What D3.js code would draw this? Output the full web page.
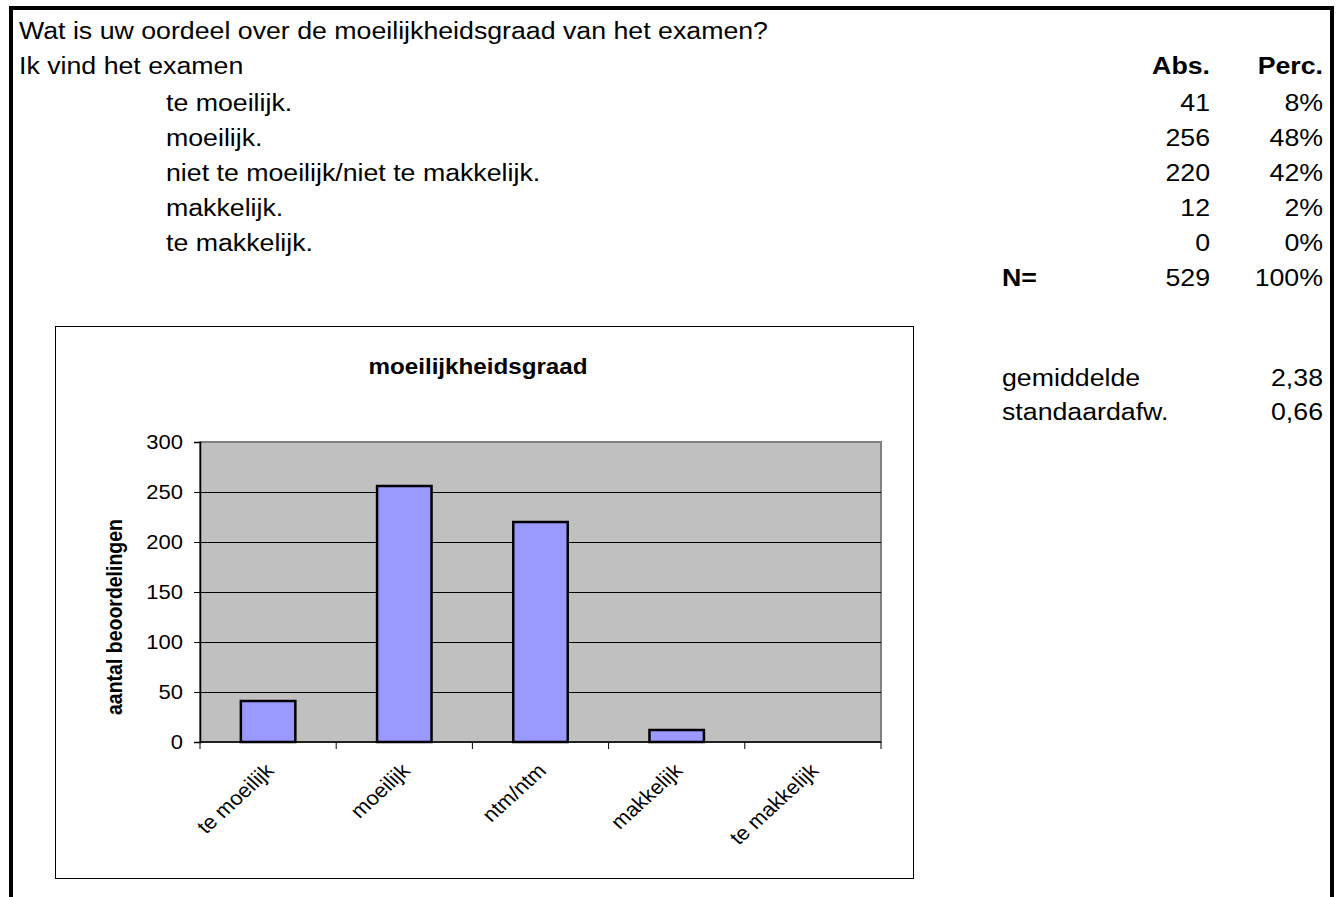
<!DOCTYPE html>
<html>
<head>
<meta charset="utf-8">
<script src="https://d3js.org/d3.v7.min.js"></script>
<style>
  body { margin: 0; background: #fff; }
  svg text { font-family: Arial, "Liberation Sans", sans-serif; fill: #000; }
</style>
</head>
<body>
<script>
var question = 'Wat is uw oordeel over de moeilijkheidsgraad van het examen?';
var intro = 'Ik vind het examen';
var answers = ['te moeilijk.', 'moeilijk.', 'niet te moeilijk/niet te makkelijk.', 'makkelijk.', 'te makkelijk.'];
var shortLabels = ['te moeilijk', 'moeilijk', 'ntm/ntm', 'makkelijk', 'te makkelijk'];
var counts = [41, 256, 220, 12, 0];
var percents = ['8%', '48%', '42%', '2%', '0%'];
var total = 529;
var totalPerc = '100%';
var stats = [['gemiddelde', '2,38'], ['standaardafw.', '0,66']];
var yTicks = [0, 50, 100, 150, 200, 250, 300];

var W = 1341, H = 897;
var SX = 1.1; // picture is stretched sideways

var svg = d3.select('body').append('svg')
  .attr('width', W)
  .attr('height', H);

// outer frame (open at the bottom)
svg.append('path')
  .attr('d', 'M11,' + H + 'V8H1332V' + H)
  .attr('fill', 'none')
  .attr('stroke', '#000')
  .attr('stroke-width', 4);

// spreadsheet row baselines
function rowY(i) {
  if (i < 2) return 39 + i * 34.6;
  if (i <= 7) return 111 + (i - 2) * 34.9;
  return 385.6 + (i - 10) * 34.6;
}

function txt(g, s, x, y, opts) {
  opts = opts || {};
  var t = g.append('text')
    .text(s)
    .attr('transform', 'translate(' + x + ',' + y + ') scale(' + SX + ',1)' + (opts.rotate ? ' rotate(' + opts.rotate + ')' : ''))
    .style('font-size', (opts.size || 20) + 'px')
    .attr('text-anchor', opts.anchor || 'start');
  if (opts.bold) t.style('font-weight', 'bold');
  if (opts.dy) t.attr('dy', opts.dy);
  return t;
}

// table part
var table = svg.append('g');
var fs = 24.3;
txt(table, question, 19, rowY(0), { size: fs });
txt(table, intro, 19, rowY(1), { size: fs });
txt(table, 'Abs.', 1210, rowY(1), { size: fs, bold: true, anchor: 'end' });
txt(table, 'Perc.', 1323, rowY(1), { size: fs, bold: true, anchor: 'end' });

answers.forEach(function(a, i) {
  txt(table, a, 166, rowY(i + 2), { size: fs });
  txt(table, String(counts[i]), 1210, rowY(i + 2), { size: fs, anchor: 'end' });
  txt(table, percents[i], 1323, rowY(i + 2), { size: fs, anchor: 'end' });
});

txt(table, 'N=', 1002, rowY(7), { size: fs, bold: true });
txt(table, String(total), 1210, rowY(7), { size: fs, anchor: 'end' });
txt(table, totalPerc, 1323, rowY(7), { size: fs, anchor: 'end' });

stats.forEach(function(s, i) {
  txt(table, s[0], 1002, rowY(10 + i), { size: fs });
  txt(table, s[1], 1323, rowY(10 + i), { size: fs, anchor: 'end' });
});

// chart box
var chart = svg.append('g');
chart.append('rect')
  .attr('x', 55.5)
  .attr('y', 326.5)
  .attr('width', 858)
  .attr('height', 552)
  .attr('fill', '#fff')
  .attr('stroke', '#000')
  .attr('stroke-width', 1);

var plot = { left: 200, top: 442, right: 881, bottom: 742 };

var x = d3.scaleBand()
  .domain(shortLabels)
  .range([plot.left, plot.right])
  .paddingInner(0.6)
  .paddingOuter(0.3);

var y = d3.scaleLinear()
  .domain([0, 300])
  .range([plot.bottom, plot.top]);

chart.append('rect')
  .attr('x', plot.left)
  .attr('y', plot.top)
  .attr('width', plot.right - plot.left)
  .attr('height', plot.bottom - plot.top)
  .attr('fill', '#c0c0c0')
  .attr('stroke', '#808080')
  .attr('stroke-width', 2);

// gridlines
chart.append('g').selectAll('line')
  .data(yTicks.filter(function(d) { return d > 0; }))
  .enter()
  .append('line')
    .attr('x1', plot.left)
    .attr('x2', plot.right)
    .attr('y1', function(d) { return Math.round(y(d)) + 0.5; })
    .attr('y2', function(d) { return Math.round(y(d)) + 0.5; })
    .attr('stroke', function(d) { return d === 300 ? '#808080' : '#000'; })
    .attr('stroke-width', 1);

// bars
chart.append('g').selectAll('rect')
  .data(counts)
  .enter()
  .append('rect')
    .attr('x', function(d, i) { return x(shortLabels[i]); })
    .attr('y', function(d) { return y(d); })
    .attr('width', x.bandwidth())
    .attr('height', function(d) { return y(0) - y(d); })
    .attr('fill', '#9999ff')
    .attr('stroke', '#000')
    .attr('stroke-width', function(d) { return d > 0 ? 2.5 : 0; });

// y axis
var yAxis = chart.append('g')
  .attr('transform', 'translate(' + plot.left + ',0)')
  .call(d3.axisLeft(y).tickValues(yTicks).tickSize(6).tickPadding(10).tickFormat(d3.format('d')));
yAxis.select('.domain').attr('stroke', '#000').attr('stroke-width', 1.5);
yAxis.selectAll('.tick line').attr('stroke', '#000');
yAxis.selectAll('.tick text').remove();
yTicks.forEach(function(t) {
  txt(chart, String(t), 183, y(t), { size: 20, anchor: 'end', dy: '0.35em' });
});

// x axis: ticks between categories
var bounds = d3.range(shortLabels.length + 1).map(function(i) { return plot.left + i * (plot.right - plot.left) / shortLabels.length; });
chart.append('line')
  .attr('x1', plot.left)
  .attr('x2', plot.right)
  .attr('y1', plot.bottom)
  .attr('y2', plot.bottom)
  .attr('stroke', '#000')
  .attr('stroke-width', 1.5);
chart.append('g').selectAll('line')
  .data(bounds)
  .enter()
  .append('line')
    .attr('x1', function(d) { return d; })
    .attr('x2', function(d) { return d; })
    .attr('y1', plot.bottom)
    .attr('y2', plot.bottom + 7)
    .attr('stroke', '#000');

shortLabels.forEach(function(l) {
  var cx = x(l) + x.bandwidth() / 2;
  txt(chart, l, cx + 7, plot.bottom + 30, { size: 20, anchor: 'end', rotate: -45 });
});

// titles
txt(chart, 'moeilijkheidsgraad', 478, 374, { size: 22, bold: true, anchor: 'middle' });
txt(chart, 'aantal beoordelingen', 122, 617, { size: 19.5, bold: true, anchor: 'middle', rotate: -90 });
</script>
</body>
</html>
